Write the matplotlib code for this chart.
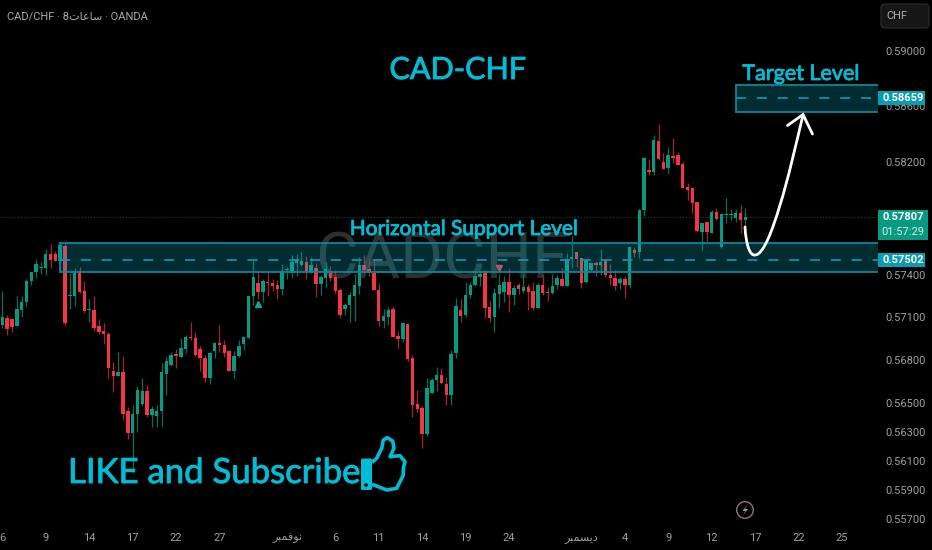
import numpy as np
import matplotlib
matplotlib.use('Agg')
import matplotlib.pyplot as plt
import matplotlib.patheffects as pe
from matplotlib.patches import Rectangle, Circle, FancyBboxPatch, PathPatch, Polygon
from matplotlib.path import Path
from matplotlib.ticker import NullFormatter

# candles, in pipettes (price * 100000), 8h bars
opens = [57047,57094,57089,57037,57150,57206,57357,57416,57449,57449,57546,57546,57498,57605,57248,57248,57425,57284,57152,57150,
         57037,57002,56981,56723,56688,56714,56445,56292,56426,56493,56584,56417,56412,56442,56704,56767,56842,56823,56876,56960,
         56956,56876,56814,56672,56865,56916,56907,56865,56725,56828,56909,56956,57248,57340,57279,57350,57340,57324,57298,57432,
         57411,57482,57468,57492,57416,57447,57336,57378,57411,57383,57293,57157,57185,57248,57319,57465,57437,57409,57291,57070,
         57103,57155,56967,56947,57051,56816,56491,56463,56283,56572,56660,56693,56632,56556,56846,57147,57115,57255,57326,57385,
         57414,57173,57098,57265,57279,57345,57255,57329,57286,57310,57284,57166,57329,57279,57267,57326,57366,57319,57508,57557,
         57520,57347,57432,57480,57470,57498,57397,57376,57343,57369,57324,57574,57562,57858,58143,58127,58350,58198,58160,58243,
         58253,58188,58022,58012,57912,57704,57775,57697,57844,57593,57825,57822,57799,57839,57787]
highs = [57284,57115,57094,57246,57246,57366,57421,57513,57492,57579,57616,57567,57628,57628,57409,57444,57451,57352,57225,57246,
         57084,57056,56998,56788,56853,56828,56472,56486,56616,56676,56623,56479,56484,56779,56818,56858,56879,56953,56972,57066,
         56993,56897,56835,56858,56925,57042,56939,56872,56865,56939,56967,57255,57503,57428,57366,57416,57369,57362,57475,57454,
         57539,57543,57562,57532,57522,57480,57399,57487,57461,57435,57305,57199,57274,57402,57522,57539,57508,57513,57343,57155,
         57173,57173,57002,57068,57061,56832,56591,56482,56676,56676,56748,56746,56683,56870,57237,57229,57350,57350,57432,57432,
         57432,57213,57303,57404,57390,57444,57326,57338,57404,57331,57345,57343,57404,57310,57404,57397,57444,57555,57673,57562,
         57527,57508,57491,57496,57579,57508,57475,57432,57385,57392,57603,57598,57863,58238,58219,58393,58476,58262,58310,58374,
         58272,58203,58048,58019,57917,57768,57775,57858,57870,57829,57946,57863,57863,57893,57874]
lows = [57023,56977,56995,57037,57101,57178,57329,57378,57404,57395,57449,57496,57489,57047,57157,57178,57272,57131,57063,57002,
        56984,56909,56672,56577,56688,56385,56251,56015,56297,56482,56403,56334,56336,56339,56556,56760,56746,56818,56849,56942,
        56828,56723,56646,56635,56816,56856,56821,56723,56672,56823,56870,56956,57183,57229,57208,57248,57284,57227,57258,57366,
        57376,57390,57461,57369,57411,57241,57258,57310,57355,57267,57091,57115,57068,57075,57260,57414,57390,57293,57040,57021,
        57044,56963,56881,56928,56792,56405,56440,56186,56272,56572,56586,56632,56486,56486,56811,57068,57103,57237,57319,57319,
        57091,57068,56998,57162,57208,57138,57185,57262,57272,57150,57150,57162,57255,57213,57262,57296,57319,57319,57444,57456,
        57303,57343,57428,57390,57397,57385,57326,57291,57296,57237,57303,57527,57515,57815,58108,58108,58215,58148,58124,58191,
        58179,58012,57929,57834,57704,57574,57640,57692,57787,57586,57768,57787,57775,57697,57739]
closes = [57098,57016,57030,57159,57206,57355,57416,57475,57454,57546,57503,57496,57607,57059,57253,57425,57279,57145,57157,57026,
          56993,56981,56741,56688,56718,56422,56292,56424,56591,56584,56419,56456,56445,56714,56792,56837,56830,56881,56958,56951,
          56832,56814,56672,56849,56918,56902,56851,56725,56828,56897,56960,57248,57383,57279,57355,57343,57319,57298,57423,57437,
          57487,57506,57494,57418,57470,57336,57383,57437,57378,57286,57112,57187,57258,57324,57465,57430,57414,57293,57070,57108,
          57150,56963,56949,57056,56809,56486,56459,56285,56607,56660,56697,56639,56556,56842,57176,57108,57255,57326,57390,57404,
          57162,57096,57267,57324,57347,57258,57303,57298,57312,57277,57162,57329,57272,57272,57322,57373,57319,57511,57524,57511,
          57343,57503,57480,57468,57487,57395,57373,57319,57371,57324,57598,57551,57858,58231,58127,58357,58219,58150,58248,58229,
          58181,58017,58003,57905,57706,57763,57704,57844,57794,57829,57829,57829,57834,57787,57807]

# bottom axis: one label every 9 bars
date_bars = [0, 9, 18, 27, 36, 45, 59, 69, 78, 87, 96, 105, 120, 129, 138, 147, 156, 165, 174]
# arabic words are written as shaped glyphs in visual order, matplotlib does not shape them
nov_label = '\uFEAE\uFE92\uFEE4\uFED3\uFEEE\uFEE7'
dec_label = '\uFEAE\uFE92\uFEE4\uFEB4\uFEF3\uFEA9'
hours_label = '\uFE95\uFE8E\uFECB\uFE8E\uFEB3'
date_labels = ['6', '9', '14', '17', '22', '27', nov_label, '6', '11', '14', '19', '24', dec_label,
               '4', '9', '12', '17', '22', '25']

price_ticks = [0.59, 0.586, 0.582, 0.574, 0.571, 0.568, 0.565, 0.563, 0.561, 0.559, 0.557]

support_top = 0.57621
support_mid = 0.57502
support_bottom = 0.57416
target_top = 0.58754
target_mid = 0.58659
target_bottom = 0.58561
last_price = 0.57807

up_signal = (53, 0.57192)
down_signal = (103, 0.57447)

GREEN = '#089981'
RED = '#f23645'
GREEN_WICK = '#06705f'
RED_WICK = '#a5242f'
CYAN = '#00bcd4'
TEAL_TAG = '#0a9cb0'
GRAY = '#a0a0a0'
FONT = ['Roboto', 'DejaVu Sans']
TITLE_FONT = ['Lato', 'DejaVu Sans']

W, H = 932, 550
fig = plt.figure(figsize=(W / 100, H / 100), dpi=100, facecolor='black')
ax = fig.add_axes([0, 25 / H, 878 / W, 525 / H], facecolor='black')
for s in ax.spines.values():
    s.set_visible(False)

o = np.array(opens) / 1e5
h = np.array(highs) / 1e5
l = np.array(lows) / 1e5
c = np.array(closes) / 1e5
x = np.arange(len(o))
is_up = c >= o

ax.set_yscale('log')
ax.set_xlim(-0.483, 181.48)
ax.set_ylim(0.55659, 0.59371)

ax.text(91, 0.57502, 'CADCHF', color='#2e2e2e', fontsize=47, family=FONT, ha='center', va='center', zorder=0.5)
ax.vlines(x[is_up], l[is_up], h[is_up], color=GREEN_WICK, lw=0.9, zorder=2)
ax.vlines(x[~is_up], l[~is_up], h[~is_up], color=RED_WICK, lw=0.9, zorder=2)
body_bottom = np.minimum(o, c)
body_height = np.maximum(np.abs(c - o), 0.00006)
ax.bar(x, body_height, 0.72, bottom=body_bottom, color=np.where(is_up, GREEN, RED), linewidth=0, zorder=3)

ax.plot([up_signal[0]], [up_signal[1]], marker='^', color='#12a594', ms=5, ls='none', zorder=3)
ax.plot([down_signal[0]], [down_signal[1]], marker='v', color=RED, ms=4, ls='none', zorder=3)

ax.axhline(last_price, color=GREEN, lw=0.7, ls=(0, (1, 2)), alpha=0.6, zorder=1)

# the two zones, from the bar where they start to the price scale
for start, top, mid, bottom in [(11.95, support_top, support_mid, support_bottom),
                                (151.95, target_top, target_mid, target_bottom)]:
    ax.add_patch(Rectangle((start, bottom), 182 - start, top - bottom, facecolor=CYAN, alpha=0.24,
                           edgecolor='none', zorder=4))
    ax.add_patch(Rectangle((start, bottom), 182 - start, top - bottom, facecolor='none',
                           edgecolor='#0b8799', lw=1.3, zorder=4.1))
    ax.hlines(mid, start, 182, color='#0b9cb0', lw=1.2, ls=(0, (6, 6.5)), zorder=4.1)

ax.yaxis.tick_right()
ax.set_yticks(price_ticks)
ax.set_yticklabels(['%.5f' % p for p in price_ticks], family=FONT, fontsize=8, color=GRAY)
ax.yaxis.set_minor_formatter(NullFormatter())
ax.tick_params(axis='y', which='both', length=0, pad=5)
ax.set_xticks(date_bars)
ax.set_xticklabels(date_labels, family=FONT, fontsize=8, color=GRAY)
ax.tick_params(axis='x', length=0, pad=6)

# overlay in picture pixels for drawings and labels
ov = fig.add_axes([0, 0, 1, 1], facecolor='none', zorder=5)
ov.set_xlim(0, W)
ov.set_ylim(H, 0)
ov.axis('off')


def price_to_px(p):
    return H - ax.transData.transform((0, p))[1]


thicker = [pe.withStroke(linewidth=0.6, foreground=CYAN)]
ov.text(7, 17, 'CAD/CHF · 8' + hours_label + ' · OANDA', color='#a8a8a8', fontsize=8, family=FONT, va='center')
ov.text(457.5, 70, 'CAD-CHF', color=CYAN, fontsize=22, family=TITLE_FONT, ha='center', va='center', path_effects=thicker)
ov.text(801, 74, 'Target Level', color=CYAN, fontsize=15.5, family=TITLE_FONT, ha='center', va='center', path_effects=thicker)
ov.text(464, 229, 'Horizontal Support Level', color=CYAN, fontsize=15, family=TITLE_FONT, ha='center', va='center', path_effects=thicker)
ov.text(68, 473, 'LIKE and Subscribe', color=CYAN, fontsize=25, family=TITLE_FONT, ha='left', va='center', path_effects=thicker)

# price tags on the scale
for p, colour, right in [(target_mid, TEAL_TAG, 925), (support_mid, TEAL_TAG, 925)]:
    py = price_to_px(p)
    ov.add_patch(Rectangle((878, py - 7), right - 878, 14, facecolor=colour, edgecolor='none'))
    ov.text(903, py, '%.5f' % p, color='white', fontsize=8, family=FONT, weight='bold', ha='center', va='center')
py = price_to_px(last_price)
ov.add_patch(Rectangle((878, py - 7.5), 50, 30, facecolor=GREEN, edgecolor='none'))
ov.text(903, py, '%.5f' % last_price, color='white', fontsize=8, family=FONT, weight='bold', ha='center', va='center')
ov.text(903, py + 15, '01:57:29', color='#d6efe9', fontsize=8, family=FONT, ha='center', va='center')

ov.add_patch(FancyBboxPatch((881, 4), 48, 24, boxstyle='round,pad=0,rounding_size=4', facecolor='#161616',
                            edgecolor='#2e2e2e', lw=0.8))
ov.text(897, 16, 'CHF', color='#b0b0b0', fontsize=8, family=FONT, ha='center', va='center')

# projected move
curve = Path([(745, 227), (746, 245), (750, 256), (755, 255), (763, 255), (772, 232), (780, 205),
              (788, 180), (797, 140), (803, 115)],
             [Path.MOVETO] + [Path.CURVE4] * 9)
ov.add_patch(PathPatch(curve, facecolor='none', edgecolor='white', lw=2, capstyle='round'))
ov.plot([787.5, 803, 812.5], [125.5, 114.5, 134], color='white', lw=2, solid_capstyle='round', solid_joinstyle='miter')

# thumb
ov.add_patch(FancyBboxPatch((361, 458.5), 11, 31.5, boxstyle='round,pad=0,rounding_size=1.5', facecolor=CYAN, edgecolor='none'))
ov.add_patch(Circle((366, 485), 1.8, facecolor='black', edgecolor='none'))
hand = [(372, 462.3), (376.7, 458.3), (381.7, 448.3), (383.3, 440), (387.3, 437.7), (392.7, 441), (394, 448.3),
        (390, 456.7), (400, 455.7), (405, 461.7), (403.3, 468.3), (403.3, 475), (400, 481.7), (396.7, 488.3),
        (386.7, 490), (378.3, 486.7), (372, 484.3)]
ov.add_patch(Polygon(hand, closed=False, facecolor='none', edgecolor=CYAN, lw=2.6, joinstyle='round'))

# lightning button
ov.add_patch(Circle((745, 510), 8.3, facecolor='none', edgecolor='#8f7480', lw=1))
ov.add_patch(Polygon([(748, 504), (742.5, 511), (745.5, 511), (742.5, 516), (748, 509), (745, 509)], closed=True,
                     facecolor='#9a8f94', edgecolor='none'))

fig.savefig('out.png', dpi=100, facecolor='black')
